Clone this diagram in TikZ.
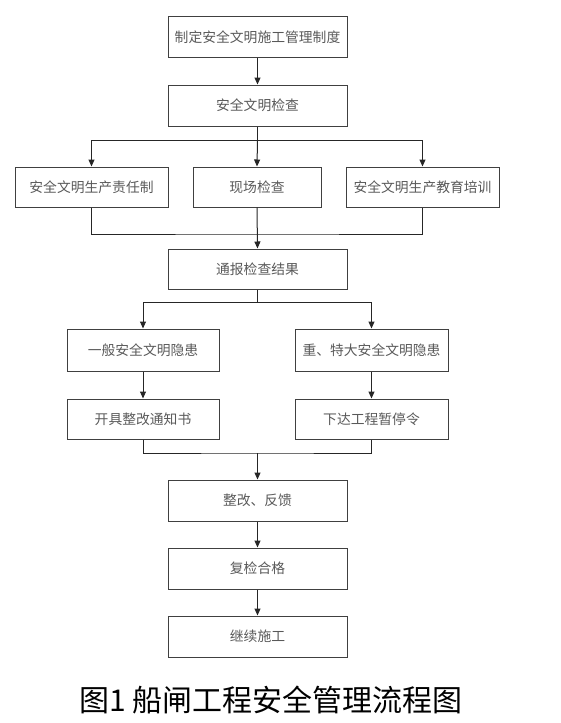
\documentclass[tikz,border=0pt]{standalone}
\usepackage{fontspec}
\setmainfont{Noto Sans CJK SC}
\usetikzlibrary{arrows.meta}
\begin{document}
\begin{tikzpicture}[x=1pt,y=-1pt,
  stepbox/.style={draw=black!75,line width=1pt,inner sep=0pt,minimum height=41pt,
    text=black!65,font=\fontsize{13.8}{16}\selectfont},
  link/.style={draw=black!85,line width=1pt},
  arr/.style={link,-{Triangle[length=7pt,width=6pt]}}]
\useasboundingbox (0,0) rectangle (561,723);
\node[stepbox,minimum width=179pt] (b1) at (257.5,37) {制定安全文明施工管理制度};
\node[stepbox,minimum width=179pt] (b2) at (257.5,105.5) {安全文明检查};
\node[stepbox,minimum width=153pt,minimum height=40pt] (l3) at (91.5,187) {安全文明生产责任制};
\node[stepbox,minimum width=128pt,minimum height=40pt] (m3) at (257,187) {现场检查};
\node[stepbox,minimum width=153pt,minimum height=40pt] (r3) at (422.5,187) {安全文明生产教育培训};
\node[stepbox,minimum width=179pt,minimum height=40pt] (b4) at (257.5,269) {通报检查结果};
\node[stepbox,minimum width=152pt,minimum height=42pt] (l5) at (143,350) {一般安全文明隐患};
\node[stepbox,minimum width=153pt,minimum height=42pt] (r5) at (371.5,350) {重、特大安全文明隐患};
\node[stepbox,minimum width=152pt,minimum height=40pt] (l6) at (143,419) {开具整改通知书};
\node[stepbox,minimum width=153pt,minimum height=40pt] (r6) at (371.5,419) {下达工程暂停令};
\node[stepbox,minimum width=179pt] (b7) at (257.5,500.5) {整改、反馈};
\node[stepbox,minimum width=179pt] (b8) at (257.5,568.5) {复检合格};
\node[stepbox,minimum width=179pt] (b9) at (257.5,636.5) {继续施工};
\node[inner sep=0pt,font=\fontsize{30}{33}\selectfont] (cap) at (271,700) {图1 船闸工程安全管理流程图};
\coordinate (s2) at (257.5,140);
\coordinate (j3) at (257.5,234);
\coordinate (s4) at (257.5,302);
\coordinate (j6) at (257.5,453);
\draw[arr] (b1) -- (b2);
\draw[link] (b2) -- (s2);
\draw[arr] (s2) -| (l3.north);
\draw[arr] (s2) -- (m3.north);
\draw[arr] (s2) -| (r3.north);
\draw[link] (l3.south) |- (j3) -| (r3.south);
\draw[arr] (m3.south) -- (b4.north);
\draw[link] (b4) -- (s4);
\draw[arr] (s4) -| (l5.north);
\draw[arr] (s4) -| (r5.north);
\draw[arr] (l5) -- (l6);
\draw[arr] (r5) -- (r6);
\draw[link] (l6.south) |- (j6) -| (r6.south);
\draw[arr] (j6) -- (b7.north);
\draw[arr] (b7) -- (b8);
\draw[arr] (b8) -- (b9);
\end{tikzpicture}
\end{document}
